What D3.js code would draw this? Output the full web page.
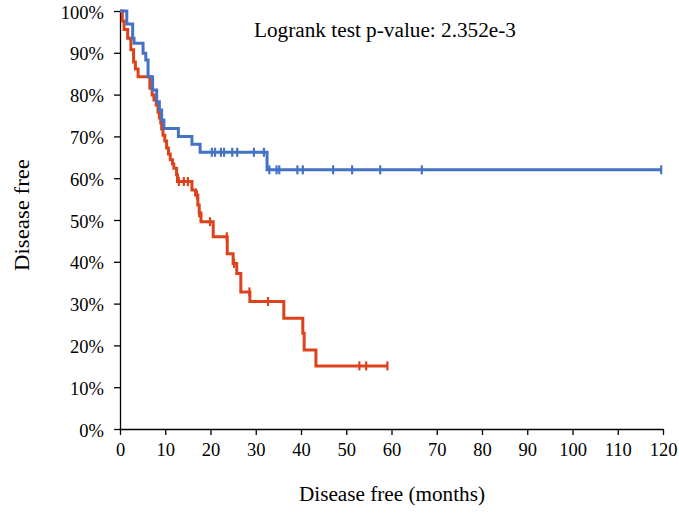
<!DOCTYPE html>
<html><head><meta charset="utf-8">
<script src="https://cdn.jsdelivr.net/npm/d3@7/dist/d3.min.js"></script>
<style>
body{margin:0;background:#fff;}
text{font-family:"Liberation Serif","DejaVu Serif",serif;fill:#000;}
</style></head>
<body><svg id="c" width="679" height="515"></svg>
<script>
// Group 1 (blue): event times (months) and survival (%) after each drop
const blueTimes = [1.5, 2.8, 3.1, 5.1, 5.7, 6.2, 7.2, 8.1, 8.7, 9.2, 9.7, 12.9, 15.9, 17.7, 32.5];
const blueSurv  = [96.9, 93.5, 92.3, 89.9, 88.3, 84.3, 81.1, 78.3, 76.3, 73.9, 71.9, 70.0, 68.1, 66.2, 62.0];
const blueCensor = [20.3, 21.0, 22.3, 23.0, 24.8, 25.9, 29.6, 31.8, 33.0, 34.6, 35.2, 39.2, 40.4, 47.1, 51.3, 57.5, 66.7, 119.6];
const blueEnd = 119.6;
// Group 2 (red)
const redTimes = [0.5, 0.9, 1.7, 2.4, 3.0, 3.4, 4.0, 6.6, 7.1, 7.5, 8.0, 8.4, 8.7, 9.0, 9.2, 9.5, 9.9, 10.3, 10.7, 11.1, 11.6, 11.9, 12.5, 12.7, 15.9, 16.7, 17.2, 17.5, 17.9, 20.6, 23.7, 25.0, 25.8, 26.7, 28.7, 36.2, 40.4, 40.7, 43.3];
const redSurv  = [97.6, 95.6, 93.5, 90.7, 87.8, 86.1, 84.3, 81.5, 79.9, 78.7, 77.5, 75.8, 74.4, 73.2, 71.8, 70.3, 68.9, 67.2, 65.8, 64.4, 63.4, 62.4, 60.8, 59.2, 57.2, 56.0, 53.6, 51.7, 49.6, 46.0, 41.9, 39.6, 37.2, 32.8, 30.5, 26.5, 22.9, 18.9, 15.1];
const redCensor = [13.0, 14.1, 15.0, 17.0, 17.5, 19.9, 23.6, 25.2, 28.6, 32.7, 52.9, 54.4, 59.1];
const redEnd = 59.1;

const xTicks = [0,10,20,30,40,50,60,70,80,90,100,110,120];
const yTicks = [0,10,20,30,40,50,60,70,80,90,100];
const annotation = "Logrank test p-value: 2.352e-3";
const xTitle = "Disease free (months)";
const yTitle = "Disease free";

const svg = d3.select("#c");
const x = d3.scaleLinear().domain([0,120]).range([120,663]);
const y = d3.scaleLinear().domain([0,100]).range([429,11]);

// axes
const xAxis = svg.append("g").attr("transform","translate(0,429)")
  .call(d3.axisBottom(x).tickValues(xTicks).tickSize(6).tickSizeOuter(0).tickPadding(8));
const yAxis = svg.append("g").attr("transform","translate(120,0)")
  .call(d3.axisLeft(y).tickValues(yTicks).tickSize(6).tickSizeOuter(0).tickPadding(10).tickFormat(d=>d+"%"));
[xAxis,yAxis].forEach(g=>{
  g.selectAll("path.domain").attr("stroke","#000").attr("stroke-width",1.3);
  g.selectAll(".tick line").attr("stroke","#000").attr("stroke-width",1.3);
  g.selectAll(".tick text").style("font-family","'Liberation Serif',serif").style("font-size","18.5px").attr("fill","#000");
});
yAxis.selectAll(".tick text").attr("dy","0.38em");

function stepPath(times, surv, end){
  const pts = [[0,100]];
  let prev = 100;
  times.forEach((t,i)=>{ pts.push([t,prev]); pts.push([t,surv[i]]); prev = surv[i]; });
  pts.push([end, prev]);
  return pts;
}
function survAt(times, surv, t){
  let s = 100;
  for(let i=0;i<times.length;i++){ if(times[i] <= t) s = surv[i]; }
  return s;
}
const line = d3.line().x(d=>x(d[0])).y(d=>y(d[1]));

function drawGroup(times, surv, censor, end, color){
  const g = svg.append("g");
  g.append("path").datum(stepPath(times,surv,end))
    .attr("d",line).attr("fill","none").attr("stroke",color)
    .attr("stroke-width",3).attr("stroke-linejoin","miter").attr("stroke-linecap","butt");
  g.selectAll("line.c").data(censor).enter().append("line")
    .attr("x1",d=>x(d)).attr("x2",d=>x(d))
    .attr("y1",d=>y(survAt(times,surv,d))-4.5).attr("y2",d=>y(survAt(times,surv,d))+4.5)
    .attr("stroke",color).attr("stroke-width",2.2);
}
drawGroup(redTimes, redSurv, redCensor, redEnd, "#DC421C");
drawGroup(blueTimes, blueSurv, blueCensor, blueEnd, "#4472C4");

svg.append("text").attr("x",385).attr("y",37).attr("text-anchor","middle")
  .style("font-size","20px").attr("textLength",262).attr("lengthAdjust","spacingAndGlyphs").text(annotation);
svg.append("text").attr("x",392).attr("y",501).attr("text-anchor","middle")
  .style("font-size","20px").attr("textLength",186).attr("lengthAdjust","spacingAndGlyphs").text(xTitle);
svg.append("text").attr("transform","translate(29,215) rotate(-90)").attr("text-anchor","middle")
  .style("font-size","20px").attr("textLength",112).attr("lengthAdjust","spacingAndGlyphs").text(yTitle);
</script></body></html>
